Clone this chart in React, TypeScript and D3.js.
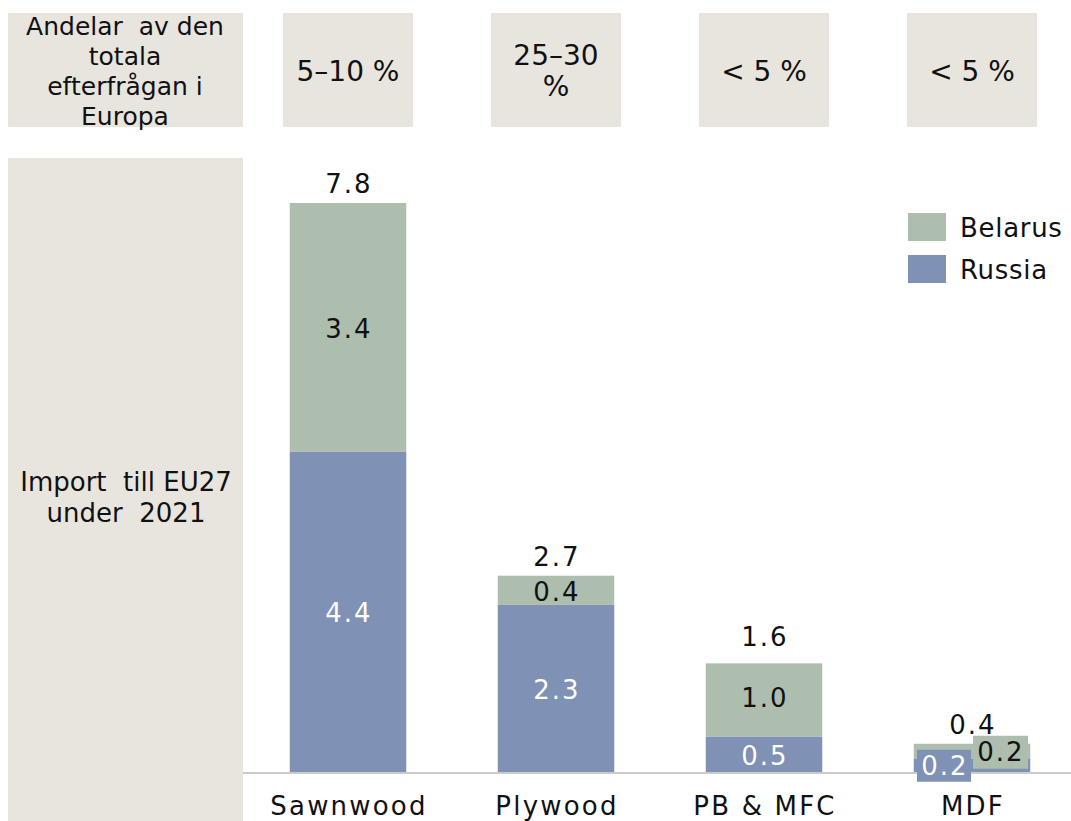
import React from "react";
import * as d3 from "d3";

const categories = ["Sawnwood", "Plywood", "PB & MFC", "MDF"];
const russia = [4.4, 2.3, 0.5, 0.2];
const belarus = [3.4, 0.4, 1.0, 0.2];
const totals = [7.8, 2.7, 1.6, 0.4];
const shareLabels = [["5–10 %"], ["25–30", "%"], ["< 5 %"], ["< 5 %"]];
const shareTitle = ["Andelar  av den", "totala", "efterfrågan i", "Europa"];
const importTitle = ["Import  till EU27", "under  2021"];
const seriesNames = ["Belarus", "Russia"];

const BEIGE = "#e8e5df";
const GREEN = "#adbdae";
const BLUE = "#7f91b4";
const FONT = "'DejaVu Sans', Verdana, sans-serif";

export default function App() {
  const width = 1071, height = 821;
  const baseY = 773;
  const chartLeft = 243;

  const x = d3.scaleBand<string>()
    .domain(categories)
    .range([244, 1076])
    .paddingInner(0.44)
    .paddingOuter(0.22);
  const y = d3.scaleLinear().domain([0, 7.8]).range([baseY, 203]);

  const rows = categories.map((c, i) => ({ cat: c, russia: russia[i], belarus: belarus[i] }));
  const stacked = d3.stack<any>().keys(["russia", "belarus"])(rows);
  const colors: Record<string, string> = { russia: BLUE, belarus: GREEN };
  const bw = x.bandwidth();
  const mid = (c: string) => (x(c) as number) + bw / 2;

  const txt = { fontFamily: FONT, fontSize: 26 };
  const pre = { whiteSpace: "pre" as const };

  return (
    <svg width={width} height={height} style={{ position: "absolute", left: 0, top: 0, background: "#fff" }}>
      {/* top row: share of European demand */}
      <rect x={8} y={13} width={235} height={114} fill={BEIGE} />
      {shareTitle.map((t, i) => (
        <text key={i} x={125} y={35 + i * 30} textAnchor="middle" fontFamily={FONT} fontSize={25} style={pre} fill="#111">{t}</text>
      ))}
      {categories.map((c, i) => {
        const lines = shareLabels[i];
        return (
          <g key={c}>
            <rect x={mid(c) - 65} y={13} width={130} height={114} fill={BEIGE} />
            {lines.map((l, j) => (
              <text key={j} x={mid(c)} y={71 + (j - (lines.length - 1) / 2) * 31} dy="0.35em"
                textAnchor="middle" fontFamily={FONT} fontSize={28} fill="#111">{l}</text>
            ))}
          </g>
        );
      })}

      {/* left panel */}
      <rect x={8} y={158} width={235} height={663} fill={BEIGE} />
      {importTitle.map((t, i) => (
        <text key={i} x={126} y={482 + i * 31} dy="0.35em" textAnchor="middle" {...txt} style={pre} fill="#111">{t}</text>
      ))}

      {/* bars */}
      {stacked.map(s => (
        <g key={s.key} fill={colors[s.key]}>
          {s.map((d, i) => (
            <rect key={i} x={x(categories[i])} y={y(d[1])} width={bw} height={y(d[0]) - y(d[1])} />
          ))}
        </g>
      ))}

      <line x1={chartLeft} x2={width} y1={baseY} y2={baseY} stroke="#cccccc" strokeWidth={2} />

      {/* segment labels */}
      {categories.map((c, i) => {
        if (c === "MDF") {
          const cy = y(totals[i]);
          return (
            <g key={c}>
              <rect x={mid(c) - 55} y={cy + 6} width={54} height={32} fill={BLUE} />
              <text x={mid(c) - 27} y={cy + 22} dy="0.35em" textAnchor="middle" {...txt} letterSpacing={2} fill="#fff">{russia[i].toFixed(1)}</text>
              <rect x={mid(c) + 1} y={cy - 8} width={55} height={33} fill={GREEN} />
              <text x={mid(c) + 29} y={cy + 8} dy="0.35em" textAnchor="middle" {...txt} letterSpacing={2} fill="#111">{belarus[i].toFixed(1)}</text>
            </g>
          );
        }
        return (
          <g key={c}>
            <text x={mid(c) + 1} y={(y(0) + y(russia[i])) / 2 + 1} dy="0.35em" textAnchor="middle" {...txt} letterSpacing={2} fill="#fff">{russia[i].toFixed(1)}</text>
            <text x={mid(c) + 1} y={(y(russia[i]) + y(totals[i])) / 2 + 2} dy="0.35em" textAnchor="middle" {...txt} letterSpacing={2} fill="#111">{belarus[i].toFixed(1)}</text>
          </g>
        );
      })}

      {/* totals */}
      {categories.map((c, i) => (
        <text key={c} x={mid(c) + 1} y={y(totals[i]) - 10} textAnchor="middle" {...txt} letterSpacing={2} fill="#111">{totals[i].toFixed(1)}</text>
      ))}

      {/* category labels */}
      {categories.map(c => (
        <text key={c} x={mid(c) + 1} y={815} textAnchor="middle" {...txt} letterSpacing={2.2} fill="#111">{c}</text>
      ))}

      {/* legend */}
      {seriesNames.map((n, i) => (
        <g key={n} transform={`translate(908,${213 + i * 42})`}>
          <rect width={38} height={28} fill={n === "Belarus" ? GREEN : BLUE} />
          <text x={52} y={15} dy="0.35em" {...txt} letterSpacing={0.7} fill="#111">{n}</text>
        </g>
      ))}
    </svg>
  );
}
